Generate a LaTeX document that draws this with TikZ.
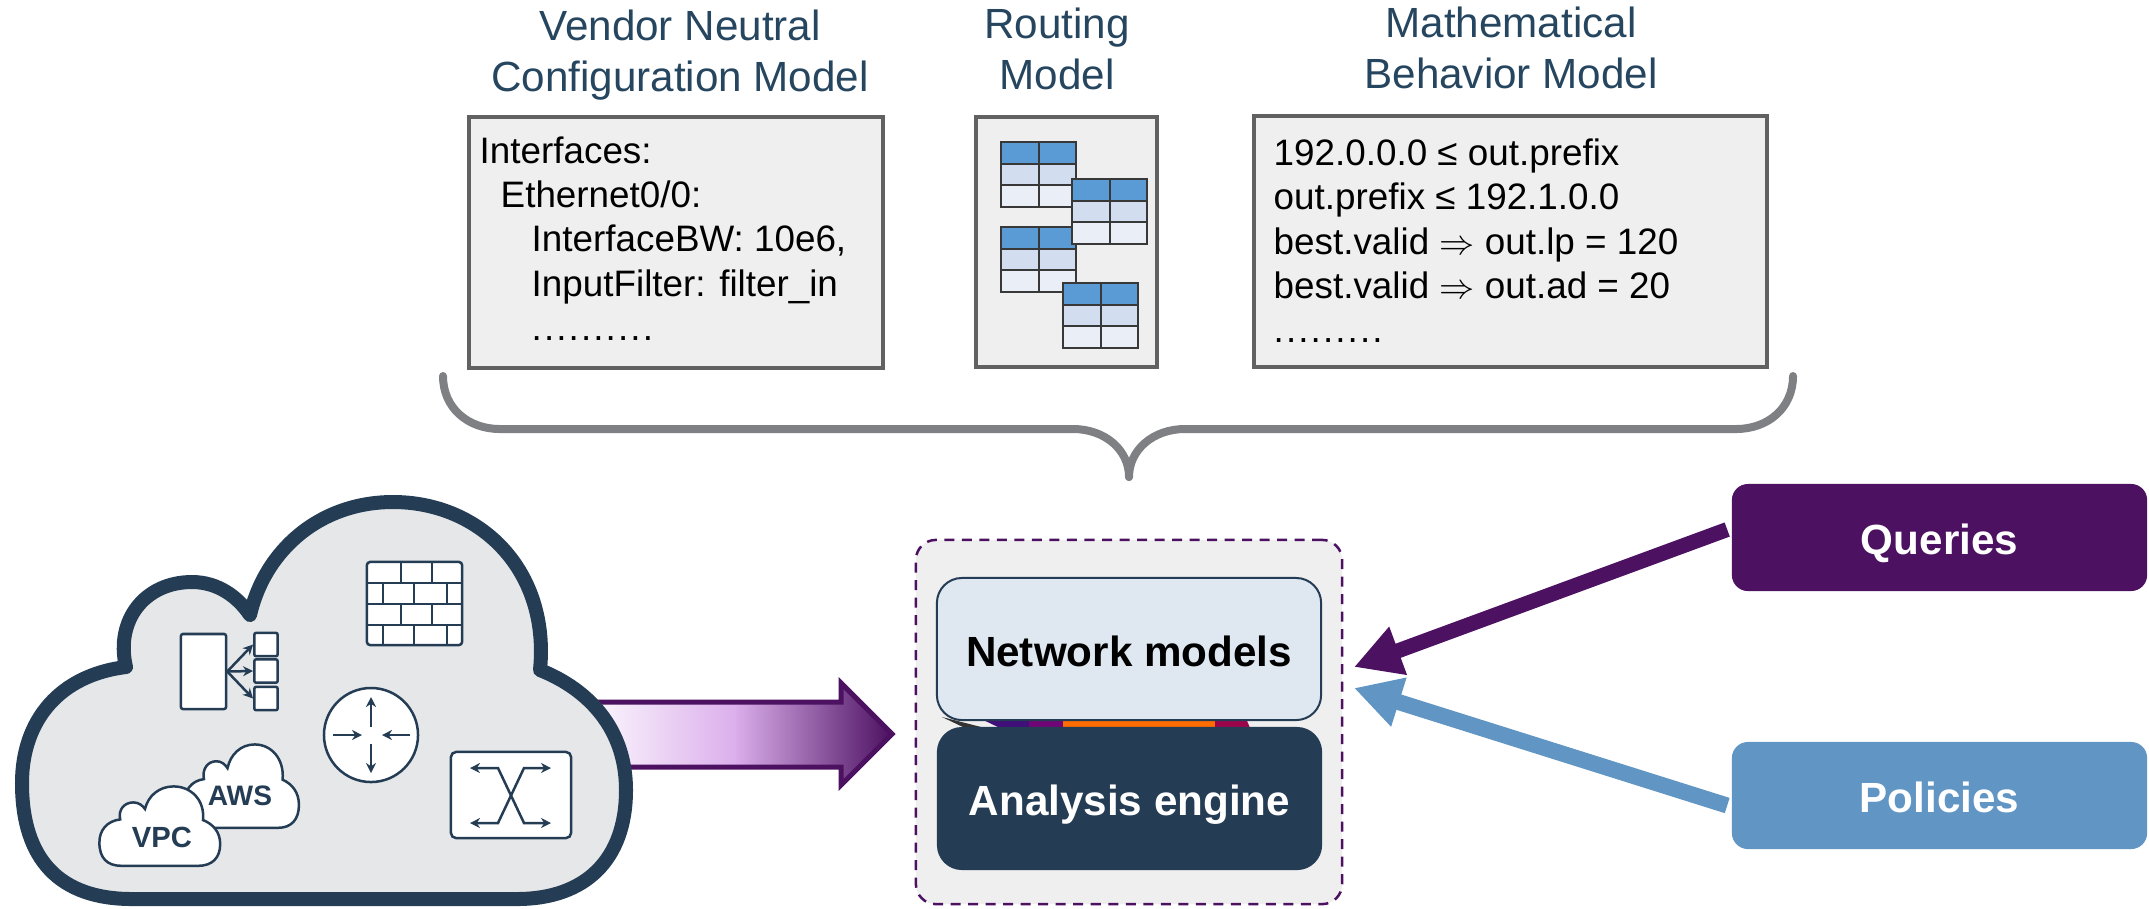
\documentclass[tikz,border=0pt]{standalone}
\usepackage{fontspec}
\setmainfont{Liberation Sans}
\usetikzlibrary{arrows.meta}
\definecolor{navy}{HTML}{243D55}
\definecolor{titleblue}{HTML}{264660}
\definecolor{plum}{HTML}{4C1161}
\definecolor{steel}{HTML}{6195C3}
\definecolor{lilac}{HTML}{DCB0EC}
\definecolor{panel}{HTML}{EFEFEF}
\definecolor{pale}{HTML}{DFE8F1}
\definecolor{cloudgrey}{HTML}{E6E7E9}
\definecolor{bracegrey}{HTML}{7F8084}
\definecolor{rowhead}{HTML}{5B9BD5}
\definecolor{rowmid}{HTML}{D2DEEF}
\definecolor{rowlow}{HTML}{EAEFF7}
\newcommand{\cloudshape}{(132,899) .. controls (60,899) and (22,860) .. (22,783) .. controls (22,720) and (60,675) .. (126,667) .. controls (115,620) and (145,582) .. (192,582) .. controls (218,582) and (238,597) .. (250,615) .. controls (265,550) and (320,502) .. (393,502) .. controls (480,502) and (550,570) .. (540,670) .. controls (590,690) and (626,730) .. (626,790) .. controls (626,860) and (585,899) .. (517,899) -- cycle}
\newcommand{\gapdot}{.\kern0.021cm}
\begin{document}
\begin{tikzpicture}[x=0.01cm,y=-0.01cm]
	\tikzstyle{modeltitle}=[align=center,inner sep=0,text=titleblue,font=\fontsize{12}{14.5}\selectfont]
	\tikzstyle{modelbox}=[draw=black!62,fill=panel,line width=0.4mm]
	\tikzstyle{modeltext}=[align=left,anchor=north west,inner sep=0,font=\fontsize{10.47}{12.6}\selectfont]
	\tikzstyle{boldlabel}=[font=\fontsize{12}{14}\selectfont\bfseries,text height=3.4mm,text depth=0mm]
	\tikzstyle{sourcebox}=[boldlabel,rounded corners=1.6mm,text=white,minimum width=4.15cm,minimum height=1.07cm]
	\tikzstyle{icon}=[draw=navy,fill=white,line width=0.25mm]
	\tikzstyle{iconline}=[draw=navy,line width=0.25mm]
	\tikzstyle{iconarrow}=[iconline,-{Stealth[length=1mm,width=1mm]}]
	\tikzstyle{cell}=[draw=black!78,line width=0.2mm]
	\tikzstyle{bracearm}=[draw=bracegrey,line width=0.8mm,line cap=round]
	\useasboundingbox (0,0) rectangle (2149,908);

	\node [modeltitle] (vendortitle) at (680,55) {Vendor Neutral\\Configuration Model};
	\node [modeltitle] (routingtitle) at (1057,49) {Routing\\Model};
	\node [modeltitle] (behaviortitle) at (1511,48) {Mathematical\\Behavior Model};

	\node [modelbox,minimum width=4.14cm,minimum height=2.51cm] (vendorbox) at (676,242.5) {};
	\node [modelbox,minimum width=1.81cm,minimum height=2.50cm] (routingbox) at (1066.5,242) {};
	\node [modelbox,minimum width=5.13cm,minimum height=2.51cm] (behaviorbox) at (1510.5,241.5) {};

	\node [modeltext] (vendortext) at (479,136) {Interfaces:\\\hspace*{0.21cm}Ethernet0/0:\\\hspace*{0.52cm}InterfaceBW: 10e6,\\\hspace*{0.52cm}InputFilter: filter\_in\\\hspace*{0.52cm}\gapdot\gapdot\gapdot\gapdot\gapdot\gapdot\gapdot\gapdot\gapdot.};
	\node [modeltext] (behaviortext) at (1273,138) {192.0.0.0 ≤ out.prefix\\out.prefix ≤ 192.1.0.0\\best.valid $\Rightarrow$ out.lp = 120\\best.valid $\Rightarrow$ out.ad = 20\\\gapdot\gapdot\gapdot\gapdot\gapdot\gapdot\gapdot\gapdot.};

	\foreach \tx/\ty in {1001/142,1001/227,1072/179,1063/283}{
		\fill[rowhead] (\tx,\ty) rectangle +(75,22);
		\fill[rowmid] (\tx,\ty+22) rectangle +(75,21);
		\fill[rowlow] (\tx,\ty+43) rectangle +(75,22);
		\draw[cell] (\tx,\ty) rectangle +(75,65);
		\draw[cell] (\tx,\ty+22) -- +(75,0);
		\draw[cell] (\tx,\ty+43) -- +(75,0);
		\draw[cell] (\tx+37.5,\ty) -- +(0,65);
	}

	\coordinate (braceleft) at (443,376);
	\coordinate (braceright) at (1793,376);
	\coordinate (bracetip) at (1129,477);
	\path[bracearm] (braceleft) .. controls (443,408) and (468,429) .. (500,429) -- (1073,429) .. controls (1105,429) and (1129,450) .. (bracetip);
	\path[bracearm] (braceright) .. controls (1793,408) and (1768,429) .. (1736,429) -- (1185,429) .. controls (1153,429) and (1129,450) .. (bracetip);

	\draw[draw=plum,line width=0.5mm,left color=white,right color=plum,middle color=lilac] (575,702) -- (841,702) -- (841,683) -- (892,734) -- (841,785) -- (841,767) -- (575,767) -- cycle;

	\draw[draw=navy,fill=cloudgrey,line width=1.4mm,line join=round] \cloudshape;

	\node [icon,rounded corners=0.3mm,minimum width=0.95cm,minimum height=0.83cm] (firewall) at (414.5,603.5) {};
	\foreach \ly in {583,604,625}{
		\draw[iconline] (367,\ly) -- (462,\ly);
	}
	\foreach \lx/\ly in {401/562,432/562,383/583,414/583,447/583,401/604,432/604,383/625,414/625,447/625}{
		\draw[iconline] (\lx,\ly) -- +(0,21);
	}

	\node [icon,rounded corners=0.2mm,minimum width=0.45cm,minimum height=0.75cm] (balancer) at (203.5,671.5) {};
	\node [icon,rounded corners=0.2mm,minimum width=0.22cm,minimum height=0.21cm] (member1) at (266,644.5) {};
	\node [icon,rounded corners=0.2mm,minimum width=0.22cm,minimum height=0.21cm] (member2) at (266,671) {};
	\node [icon,rounded corners=0.2mm,minimum width=0.22cm,minimum height=0.21cm] (member3) at (266,698.5) {};
	\draw[iconarrow] (balancer.east) -- (member1.west);
	\draw[iconarrow] (balancer.east) -- (member2.west);
	\draw[iconarrow] (balancer.east) -- (member3.west);

	\node [icon,circle,minimum size=0.94cm] (router) at (371,735) {};
	\draw[iconarrow] (371,727) -- (371,697);
	\draw[iconarrow] (371,744) -- (371,773);
	\draw[iconarrow] (333,735) -- (362,735);
	\draw[iconarrow] (410,735) -- (382,735);

	\node [icon,rounded corners=0.5mm,minimum width=1.20cm,minimum height=0.86cm] (switch) at (511,795) {};
	\draw[iconarrow,{Stealth[length=1mm,width=1mm]}-{Stealth[length=1mm,width=1mm]}] (470,768) -- (498,768) -- (524,823) -- (551,823);
	\draw[iconarrow,{Stealth[length=1mm,width=1mm]}-{Stealth[length=1mm,width=1mm]}] (551,768) -- (524,768) -- (498,823) -- (470,823);

	\draw[icon,shift={(180,639)},xscale=0.19,yscale=0.21] \cloudshape;
	\node [inner sep=0,text=navy,font=\fontsize{8}{9}\selectfont\bfseries] (aws) at (240,796) {AWS};
	\draw[icon,shift={(95,686)},scale=0.2] \cloudshape;
	\node [inner sep=0,text=navy,font=\fontsize{8.3}{9}\selectfont\bfseries] (vpc) at (162,837) {VPC};

	\node [draw=plum,dashed,fill=panel,line width=0.25mm,rounded corners=2mm,dash pattern=on 1mm off 0.75mm,minimum width=4.26cm,minimum height=3.64cm] (models) at (1129,722) {};
	\fill[black!80] (942,717) -- (985,728) -- (965,728) -- cycle;
	\fill[plum!85!blue] (975,716) -- (1000,728) -- (1030,728) -- (1030,716) -- cycle;
	\fill[violet!70!plum] (1029,716) rectangle (1063,728);
	\fill[orange!85!red] (1063,716) rectangle (1215,728);
	\fill[purple!70!plum] (1215,716) -- (1245,716) -- (1250,728) -- (1215,728) -- cycle;
	\node [boldlabel,draw=navy,fill=pale,line width=0.2mm,rounded corners=2.5mm,minimum width=3.84cm,minimum height=1.42cm] (network) at (1129,649) {Network models};
	\node [boldlabel,fill=navy,text=white,rounded corners=2.5mm,minimum width=3.85cm,minimum height=1.43cm] (engine) at (1129.5,798.5) {Analysis engine};

	\node [sourcebox,fill=plum] (queries) at (1939.5,537.5) {Queries};
	\node [sourcebox,fill=steel] (policies) at (1939.5,795.5) {Policies};
	\coordinate (querytip) at (1354,667);
	\coordinate (policytip) at (1354,688);
	\path[draw=plum,line width=1.5mm,-{Triangle[length=4.7mm,width=4.8mm]}] ([shift={(-4,-8)}]queries.west) -- (querytip);
	\path[draw=steel,line width=1.6mm,-{Triangle[length=4.7mm,width=4.8mm]}] ([shift={(-4,10)}]policies.west) -- (policytip);
\end{tikzpicture}
\end{document}
